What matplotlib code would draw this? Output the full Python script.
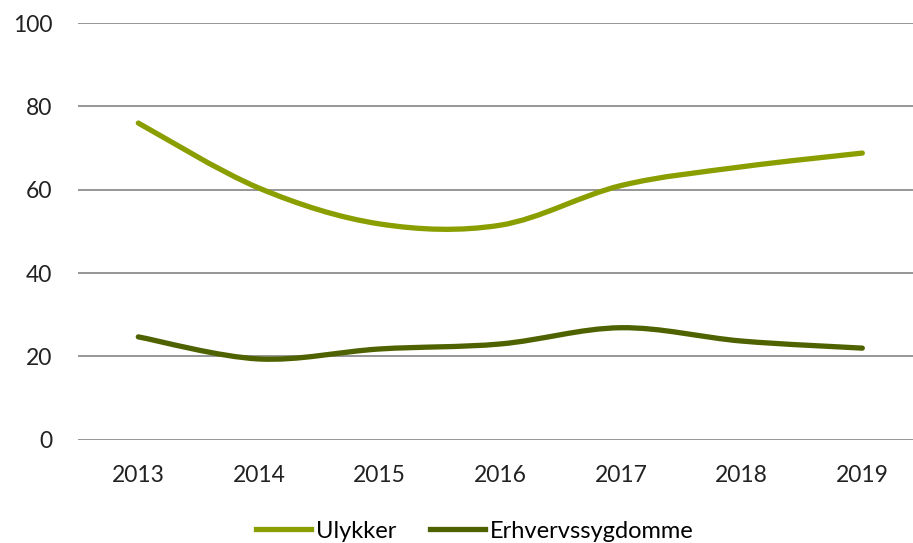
import numpy as np
import matplotlib.pyplot as plt
from matplotlib.path import Path
from matplotlib.patches import PathPatch
from matplotlib.lines import Line2D

plt.rcParams['font.family'] = ['Lato', 'DejaVu Sans']

years = ['2013', '2014', '2015', '2016', '2017', '2018', '2019']
ulykker = [76.0, 60.4, 51.8, 51.5, 61.0, 65.5, 68.8]
erhverv = [24.7, 19.4, 21.8, 23.0, 26.9, 23.7, 22.0]
y_ticks = [0, 20, 40, 60, 80, 100]

col_ulykker = '#8a9e00'
col_erhverv = '#4f6200'


def smooth_path(xs, ys):
    # bezier path like the spreadsheet "smoothed line" option
    pts = np.column_stack([xs, ys]).astype(float)
    n = len(pts)
    verts = [pts[0]]
    codes = [Path.MOVETO]
    for i in range(n - 1):
        p0 = pts[max(i - 1, 0)]
        p1 = pts[i]
        p2 = pts[i + 1]
        p3 = pts[min(i + 2, n - 1)]
        c1 = p1 + (p2 - p0) / 6.0
        c2 = p2 - (p3 - p1) / 6.0
        verts += [c1, c2, p2]
        codes += [Path.CURVE4] * 3
    return Path(verts, codes)


fig = plt.figure(figsize=(9.13, 5.43), dpi=100)
ax = fig.add_axes([0.0854, 0.19, 0.9146, 0.7676])

x = np.arange(len(years))
for vals, col in [(ulykker, col_ulykker), (erhverv, col_erhverv)]:
    patch = PathPatch(smooth_path(x, vals), facecolor='none', edgecolor=col,
                      lw=3.8, capstyle='round', joinstyle='round', zorder=3)
    ax.add_patch(patch)

ax.set_xlim(-0.5, 6.42)
ax.set_ylim(0, 100)
ax.set_yticks(y_ticks)
ax.set_xticks(x)
ax.set_xticklabels(years)
ax.grid(axis='y', color='#969696', lw=1.4)
ax.set_axisbelow(True)
for s in ax.spines.values():
    s.set_visible(False)
ax.tick_params(length=0, labelsize=16.5, colors='#222222')
ax.tick_params(axis='y', pad=18.5)
ax.tick_params(axis='x', pad=18)

handles = [Line2D([], [], color=col_ulykker, lw=3.8),
           Line2D([], [], color=col_erhverv, lw=3.8)]
fig.legend(handles, ['Ulykker', 'Erhvervssygdomme'], loc='center',
           bbox_to_anchor=(0.52, 0.022), ncol=2, frameon=False, fontsize=17,
           handlelength=2.33, handletextpad=0.2, columnspacing=1.44,
           borderpad=0, borderaxespad=0)

fig.savefig('out.png', dpi=100)
